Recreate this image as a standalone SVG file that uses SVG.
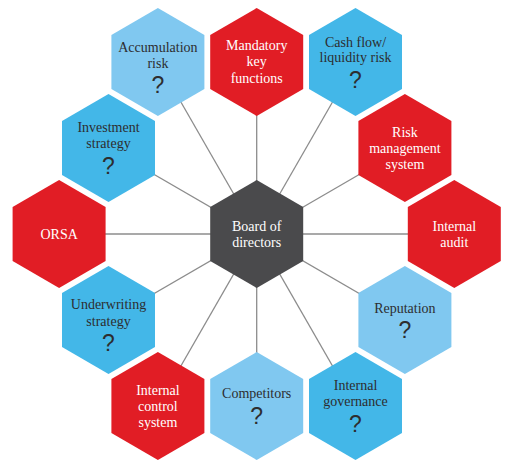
<svg xmlns="http://www.w3.org/2000/svg" xmlns:xlink="http://www.w3.org/1999/xlink" width="515" height="469" viewBox="0 0 515 469">
<style>
.red{fill:#e11d25}
.dark{fill:#4a4a4c}
.lb{fill:#80c8f0}
.mb{fill:#43b7e8}
.t{font-family:"Liberation Serif","DejaVu Serif",serif;font-size:14px;text-anchor:middle}
.w{fill:#ffffff}
.k{fill:#2d2d2f}
.q{font-family:"Liberation Sans",Arial,sans-serif;font-size:23px;text-anchor:middle;fill:#2d2d2f}
.con line{stroke:#8c8c8c;stroke-width:1.3}
</style>
<defs>
<polygon id="hex" points="0,-54 46.5,-27 46.5,27 0,54 -46.5,27 -46.5,-27"/>
</defs>
<rect width="515" height="469" fill="#ffffff"/>
<g id="connectors" class="con">
<line x1="256.7" y1="234" x2="157.9" y2="62"/>
<line x1="256.7" y1="234" x2="256.7" y2="62"/>
<line x1="256.7" y1="234" x2="355.5" y2="62"/>
<line x1="256.7" y1="234" x2="108.5" y2="148"/>
<line x1="256.7" y1="234" x2="404.9" y2="148"/>
<line x1="256.7" y1="234" x2="59.1" y2="234"/>
<line x1="256.7" y1="234" x2="454.3" y2="234"/>
<line x1="256.7" y1="234" x2="108.5" y2="320"/>
<line x1="256.7" y1="234" x2="404.9" y2="320"/>
<line x1="256.7" y1="234" x2="157.9" y2="406"/>
<line x1="256.7" y1="234" x2="256.7" y2="406"/>
<line x1="256.7" y1="234" x2="355.5" y2="406"/>
</g>
<g id="board" transform="translate(256.7,234)">
<use xlink:href="#hex" class="dark"/>
<text class="t w" y="-3">Board of</text>
<text class="t w" y="13">directors</text>
</g>
<g id="accumulation" transform="translate(157.9,62)">
<use xlink:href="#hex" class="lb"/>
<text class="t k" y="-10.5">Accumulation</text>
<text class="t k" y="5.5">risk</text>
<text class="q" y="31">?</text>
</g>
<g id="mandatory" transform="translate(256.7,62)">
<use xlink:href="#hex" class="red"/>
<text class="t w" y="-12">Mandatory</text>
<text class="t w" y="4">key</text>
<text class="t w" y="21">functions</text>
</g>
<g id="cashflow" transform="translate(355.5,62)">
<use xlink:href="#hex" class="mb"/>
<text class="t k" y="-15.5">Cash flow/</text>
<text class="t k" y="0.3">liquidity risk</text>
<text class="q" y="26">?</text>
</g>
<g id="investment" transform="translate(108.5,148)">
<use xlink:href="#hex" class="mb"/>
<text class="t k" y="-15.7">Investment</text>
<text class="t k" y="0.3">strategy</text>
<text class="q" y="26">?</text>
</g>
<g id="riskmgmt" transform="translate(404.9,148)">
<use xlink:href="#hex" class="red"/>
<text class="t w" y="-11.3">Risk</text>
<text class="t w" y="5.3">management</text>
<text class="t w" y="21.3">system</text>
</g>
<g id="orsa" transform="translate(59.1,234)">
<use xlink:href="#hex" class="red"/>
<text class="t w" y="5">ORSA</text>
</g>
<g id="audit" transform="translate(454.3,234)">
<use xlink:href="#hex" class="red"/>
<text class="t w" y="-3.3">Internal</text>
<text class="t w" y="12.7">audit</text>
</g>
<g id="underwriting" transform="translate(108.5,320)">
<use xlink:href="#hex" class="mb"/>
<text class="t k" y="-11">Underwriting</text>
<text class="t k" y="5.7">strategy</text>
<text class="q" y="30.5">?</text>
</g>
<g id="reputation" transform="translate(404.9,320)">
<use xlink:href="#hex" class="lb"/>
<text class="t k" y="-7.3">Reputation</text>
<text class="q" y="18">?</text>
</g>
<g id="control" transform="translate(157.9,406)">
<use xlink:href="#hex" class="red"/>
<text class="t w" y="-11">Internal</text>
<text class="t w" y="5">control</text>
<text class="t w" y="21.3">system</text>
</g>
<g id="competitors" transform="translate(256.7,406)">
<use xlink:href="#hex" class="lb"/>
<text class="t k" y="-7.7">Competitors</text>
<text class="q" y="18">?</text>
</g>
<g id="governance" transform="translate(355.5,406)">
<use xlink:href="#hex" class="mb"/>
<text class="t k" y="-16">Internal</text>
<text class="t k" y="0">governance</text>
<text class="q" y="25.5">?</text>
</g>
</svg>
